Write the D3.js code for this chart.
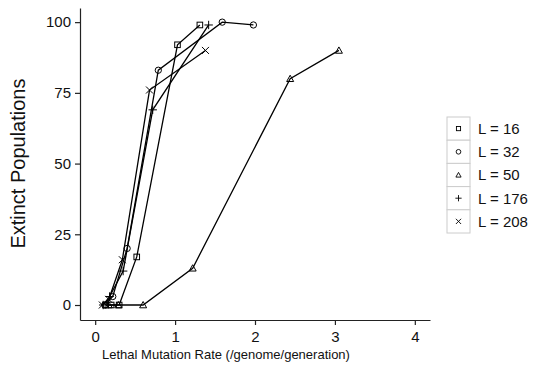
<!DOCTYPE html>
<html>
<head>
<meta charset="utf-8">
<script src="https://cdn.jsdelivr.net/npm/d3@7"></script>
<style>
  body { margin: 0; background: #fff; }
  text { font-family: "Liberation Sans", Arial, sans-serif; }
</style>
</head>
<body>
<script>
// data
var seriesNames = ["L = 16", "L = 32", "L = 50", "L = 176", "L = 208"];
var symbolKinds = ["square", "circle", "triangle", "plus", "cross"];

var rateL16 = [0.13, 0.2, 0.3, 0.52, 1.03, 1.31];
var extL16 = [0, 0, 0, 17, 92, 99];

var rateL32 = [0.12, 0.22, 0.4, 0.79, 1.59, 1.98];
var extL32 = [0, 3, 20, 83, 100, 99];

var rateL50 = [0.17, 0.29, 0.6, 1.22, 2.44, 3.05];
var extL50 = [0, 0, 0, 13, 80, 90];

var rateL176 = [0.1, 0.18, 0.35, 0.72, 1.42];
var extL176 = [0, 3, 12, 69, 99];

var rateL208 = [0.09, 0.17, 0.34, 0.68, 1.38];
var extL208 = [0, 2, 16, 76, 90];

var xTicks = [0, 1, 2, 3, 4];
var yTicks = [0, 25, 50, 75, 100];

var allRates = [rateL16, rateL32, rateL50, rateL176, rateL208];
var allExt = [extL16, extL32, extL50, extL176, extL208];

var series = seriesNames.map(function (name, k) {
    return {
        name: name,
        kind: symbolKinds[k],
        points: allRates[k].map(function (r, i) { return {x: r, y: allExt[k][i]}; })
    };
});

var W = 542, H = 366;

// scales
var xScale = d3.scaleLinear().domain([-0.19, 4.19]).range([80, 430]);
var yScale = d3.scaleLinear().domain([-5.3, 105]).range([320, 8]);

var svg = d3.select("body").append("svg")
    .attr("width", W)
    .attr("height", H);

// axes
var xAxis = svg.append("g")
    .attr("transform", "translate(0,320)")
    .call(d3.axisBottom(xScale).tickValues(xTicks).tickFormat(d3.format("d")).tickSize(5).tickSizeOuter(0));
var yAxis = svg.append("g")
    .attr("transform", "translate(80,0)")
    .call(d3.axisLeft(yScale).tickValues(yTicks).tickFormat(d3.format("d")).tickSize(5).tickSizeOuter(0));

[xAxis, yAxis].forEach(function (ax) {
    ax.attr("font-family", null);
    ax.select(".domain").attr("stroke", "#222").attr("stroke-width", 1.2);
    ax.selectAll(".tick line").attr("stroke", "#222").attr("stroke-width", 1.2);
    ax.selectAll(".tick text")
        .attr("fill", "#111")
        .style("font-size", "15px");
});
xAxis.selectAll(".tick text").attr("dy", "0.95em");
yAxis.selectAll(".tick text").attr("x", -9);

// axis titles
svg.append("text")
    .attr("x", 226)
    .attr("y", 359)
    .attr("text-anchor", "middle")
    .style("font-size", "13px")
    .attr("fill", "#111")
    .text("Lethal Mutation Rate (/genome/generation)");

svg.append("text")
    .attr("transform", "translate(25," + yScale(50) + ") rotate(-90)")
    .attr("text-anchor", "middle")
    .style("font-size", "20px")
    .attr("fill", "#111")
    .text("Extinct Populations");

// marker shapes
function marker(g, kind, s) {
    if (kind === "square") {
        g.append("rect").attr("x", -s * 0.8).attr("y", -s * 0.8)
            .attr("width", s * 1.6).attr("height", s * 1.6);
    } else if (kind === "circle") {
        g.append("circle").attr("r", s * 0.9);
    } else if (kind === "triangle") {
        g.append("path").attr("d", "M0," + (-s) + "L" + s + "," + (s * 0.8) + "L" + (-s) + "," + (s * 0.8) + "Z");
    } else if (kind === "plus") {
        g.append("path").attr("d", "M" + (-s * 1.2) + ",0H" + (s * 1.2) + "M0," + (-s * 1.2) + "V" + (s * 1.2));
    } else {
        g.append("path").attr("d", "M" + (-s) + "," + (-s) + "L" + s + "," + s + "M" + (-s) + "," + s + "L" + s + "," + (-s));
    }
}

var line = d3.line()
    .x(function (d) { return xScale(d.x); })
    .y(function (d) { return yScale(d.y); });

var plot = svg.append("g");
series.forEach(function (s) {
    plot.append("path")
        .datum(s.points)
        .attr("fill", "none")
        .attr("stroke", "#000")
        .attr("stroke-width", 1.3)
        .attr("d", line);
    s.points.forEach(function (p) {
        var g = plot.append("g")
            .attr("transform", "translate(" + xScale(p.x) + "," + yScale(p.y) + ")")
            .attr("fill", "none")
            .attr("stroke", "#000")
            .attr("stroke-width", 1);
        marker(g, s.kind, 3.5);
    });
});

// legend
var legend = svg.append("g").attr("transform", "translate(447,117)");
var rowH = 23.2;
series.forEach(function (s, i) {
    var row = legend.append("g").attr("transform", "translate(0," + (i * rowH) + ")");
    row.append("rect")
        .attr("width", 23).attr("height", rowH)
        .attr("fill", "#fff").attr("stroke", "#ccc").attr("stroke-width", 1);
    var g = row.append("g")
        .attr("transform", "translate(11.5," + (rowH / 2) + ")")
        .attr("fill", "none").attr("stroke", "#000").attr("stroke-width", 0.9);
    marker(g, s.kind, 2.6);
    row.append("text")
        .attr("x", 31)
        .attr("y", rowH / 2)
        .attr("dy", "0.36em")
        .style("font-size", "15px")
        .attr("fill", "#111")
        .text(s.name);
});
</script>
</body>
</html>
